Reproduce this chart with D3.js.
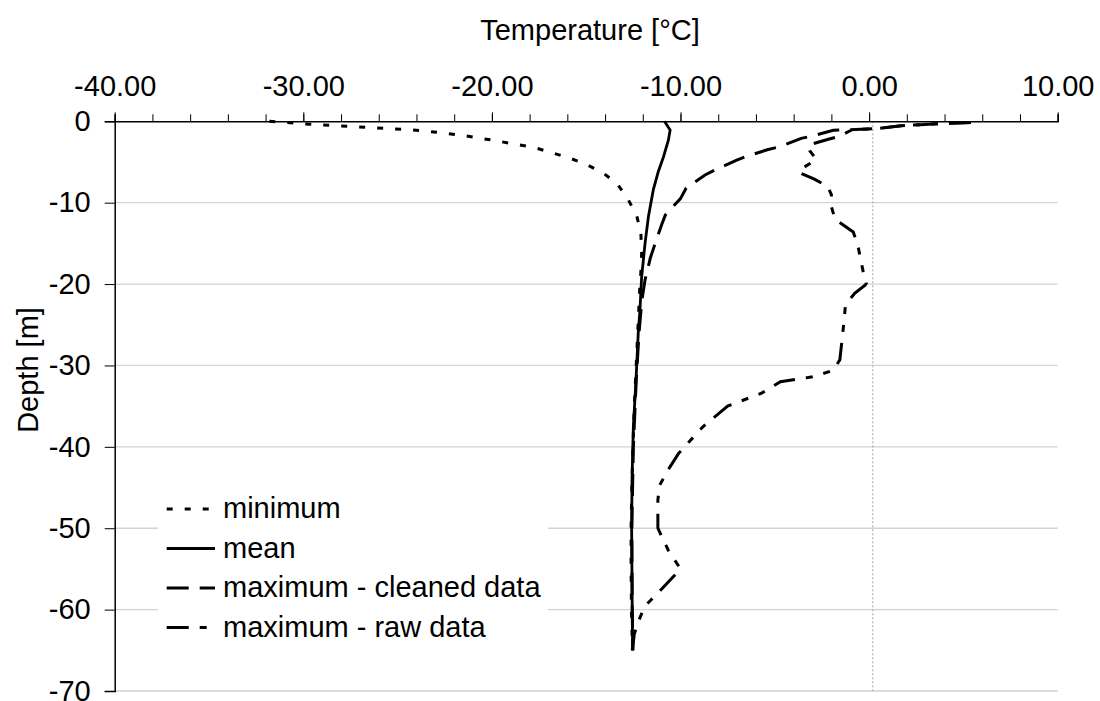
<!DOCTYPE html>
<html>
<head>
<meta charset="utf-8">
<script src="https://cdn.jsdelivr.net/npm/d3@7"></script>
<style>
  body { margin: 0; background: #fff; }
  text { font-family: "Liberation Sans", Arial, sans-serif; fill: #000; }
</style>
</head>
<body>
<div id="chart"></div>
<script>
// temperature profile values
const minDepth = [0, -0.37, -0.61, -0.86, -1.15, -1.68, -2.38, -2.8, -3.2, -3.8, -4.5, -5.3, -6.35, -7.7, -9.5, -11.6, -13.8, -16.2, -18.5, -20, -25, -30, -35, -40, -45, -50, -55, -60, -65];
const minTemp = [-31.8, -29.6, -27.65, -25.7, -23.7, -21.7, -19.8, -18.8, -17.8, -16.9, -15.9, -15.0, -14.1, -13.35, -12.8, -12.32, -12.1, -12.06, -12.1, -12.15, -12.25, -12.35, -12.45, -12.52, -12.58, -12.62, -12.62, -12.6, -12.55];

const meanDepth = [0, -1.07, -2.3, -4.35, -6.2, -8.4, -11.7, -15, -19.1, -23.2, -26, -31.8, -37.5, -44, -50.2, -57, -65];
const meanTemp = [-10.85, -10.55, -10.64, -10.9, -11.18, -11.44, -11.7, -11.88, -12.06, -12.15, -12.24, -12.36, -12.5, -12.57, -12.59, -12.57, -12.54];

const cleanDepth = [-0.15, -0.33, -0.55, -0.9, -1.05, -1.1, -1.8, -2.1, -3.1, -3.5, -4.3, -4.8, -5.9, -6.6, -8.2, -9.5, -11.5, -12.7, -15.4, -16.8, -19.5, -22, -26, -32, -40, -50, -60, -65];
const cleanTemp = [5.4, 3.4, 1.7, 0.4, -1.2, -1.9, -3.0, -3.6, -4.7, -5.4, -6.5, -7.05, -8.1, -8.7, -9.7, -10.0, -10.8, -11.0, -11.4, -11.6, -11.88, -12.05, -12.2, -12.35, -12.5, -12.58, -12.56, -12.52];

const rawDepth = [-0.15, -0.33, -0.55, -0.9, -1.05, -1.4, -1.8, -2.2, -2.9, -3.6, -4.7, -6.0, -6.3, -7.1, -8.0, -9.0, -10.5, -12.05, -13.6, -15.2, -17.5, -19.2, -19.9, -20.1, -21.1, -22.5, -25, -29.3, -30.6, -31.4, -32.0, -33.4, -35.0, -37.5, -40.8, -42.8, -44.7, -46.5, -50.0, -52.7, -55.0, -56.4, -58.2, -59.6, -61.5, -63.0, -65];
const rawTemp = [5.4, 3.4, 1.7, 0.4, -0.9, -1.2, -1.5, -2.16, -3.2, -3.15, -2.8, -3.7, -3.7, -2.9, -2.2, -2.0, -2.0, -1.8, -0.84, -0.6, -0.4, -0.25, -0.15, -0.2, -0.75, -1.25, -1.35, -1.55, -1.9, -3.0, -4.7, -5.7, -7.5, -8.8, -10.1, -10.65, -11.1, -11.2, -11.2, -10.65, -10.0, -10.56, -11.3, -11.9, -12.24, -12.45, -12.55];

const xTicks = [-40, -30, -20, -10, 0, 10];
const yTicks = [0, -10, -20, -30, -40, -50, -60, -70];
const seriesNames = ["minimum", "mean", "maximum - cleaned data", "maximum - raw data"];
const zeroLine = 0.2;

const width = 1100, height = 701;
const fontSize = "29px";

const svg = d3.select("#chart").append("svg")
  .attr("width", width)
  .attr("height", height);

const x = d3.scaleLinear().domain([-40, 10]).range([114.7, 1057.7]);
const y = d3.scaleLinear().domain([0, -70]).range([121.3, 691]);

// plain hyphen instead of the unicode minus d3 uses
const fmtX = d => d3.format(".2f")(d).replace("\u2212", "-");
const fmtY = d => d3.format("d")(d).replace("\u2212", "-");

// gridlines
svg.append("g")
  .selectAll("line")
  .data(yTicks.filter(d => d != 0))
  .enter()
  .append("line")
  .attr("x1", x(-40))
  .attr("x2", x(10))
  .attr("y1", d => y(d))
  .attr("y2", d => y(d))
  .attr("stroke", "#d3d3d3")
  .attr("stroke-width", 1.3);

// dotted reference line near 0 degC
svg.append("line")
  .attr("x1", x(zeroLine))
  .attr("x2", x(zeroLine))
  .attr("y1", y(0))
  .attr("y2", y(-70))
  .attr("stroke", "#a0a0a0")
  .attr("stroke-width", 1)
  .attr("stroke-dasharray", "2,2");

// top axis
let xAxis = svg.append("g").attr("transform", `translate(0, ${y(0)})`);
xAxis.call(d3.axisTop(x).tickValues(d3.range(-40, 10.1, 2)).tickSize(7).tickFormat(""));
xAxis.selectAll(".tick line").attr("stroke", "#000");
xAxis.select(".domain").attr("stroke", "#000").attr("stroke-width", 1.5);

let xMajor = svg.append("g").attr("transform", `translate(0, ${y(0)})`);
xMajor.call(d3.axisTop(x).tickValues(xTicks).tickSize(9).tickFormat(fmtX));
xMajor.select(".domain").remove();
xMajor.selectAll(".tick text")
  .attr("font-size", fontSize)
  .attr("font-family", "Liberation Sans, Arial, sans-serif")
  .attr("y", -25);

// left axis
let yAxis = svg.append("g").attr("transform", `translate(${x(-40)}, 0)`);
yAxis.call(d3.axisLeft(y).tickValues(yTicks).tickSize(10).tickPadding(14).tickFormat(fmtY));
yAxis.select(".domain").attr("stroke", "#000").attr("stroke-width", 1.5);
yAxis.selectAll(".tick text")
  .attr("font-size", fontSize)
  .attr("font-family", "Liberation Sans, Arial, sans-serif");

// axis titles
svg.append("text")
  .text("Temperature [°C]")
  .attr("text-anchor", "middle")
  .attr("font-size", fontSize)
  .attr("x", 590)
  .attr("y", 40);

svg.append("text")
  .text("Depth [m]")
  .attr("text-anchor", "middle")
  .attr("font-size", fontSize)
  .attr("transform", "translate(38, 370) rotate(-90)");

// lines
const series = [
  { depth: minDepth, temp: minTemp, dash: "6,12", width: 3 },
  { depth: meanDepth, temp: meanTemp, dash: null, width: 2.8 },
  { depth: cleanDepth, temp: cleanTemp, dash: "22,11", width: 3 },
  { depth: rawDepth, temp: rawTemp, dash: "22,11,7,11,7,11", width: 3 }
];

const line = d3.line()
  .x(d => x(d[1]))
  .y(d => y(d[0]));

series.forEach(s => {
  svg.append("path")
    .datum(d3.zip(s.depth, s.temp))
    .attr("d", line)
    .attr("fill", "none")
    .attr("stroke", "#000")
    .attr("stroke-width", s.width)
    .attr("stroke-dasharray", s.dash);
});

// legend
let legend = svg.append("g").attr("id", "legend");
legend.append("rect")
  .attr("x", 158)
  .attr("y", 478)
  .attr("width", 390)
  .attr("height", 182)
  .attr("fill", "#fff");

let items = legend.selectAll("g.item")
  .data(seriesNames)
  .enter()
  .append("g")
  .attr("class", "item")
  .attr("transform", (d, i) => `translate(0, ${509 + i * 39.5})`);

items.append("line")
  .attr("x1", 166.7)
  .attr("x2", 215)
  .attr("stroke", "#000")
  .attr("stroke-width", (d, i) => series[i].width)
  .attr("stroke-dasharray", (d, i) => series[i].dash);

items.append("text")
  .attr("x", 223)
  .attr("y", 9)
  .attr("font-size", fontSize)
  .text(d => d);
</script>
</body>
</html>
